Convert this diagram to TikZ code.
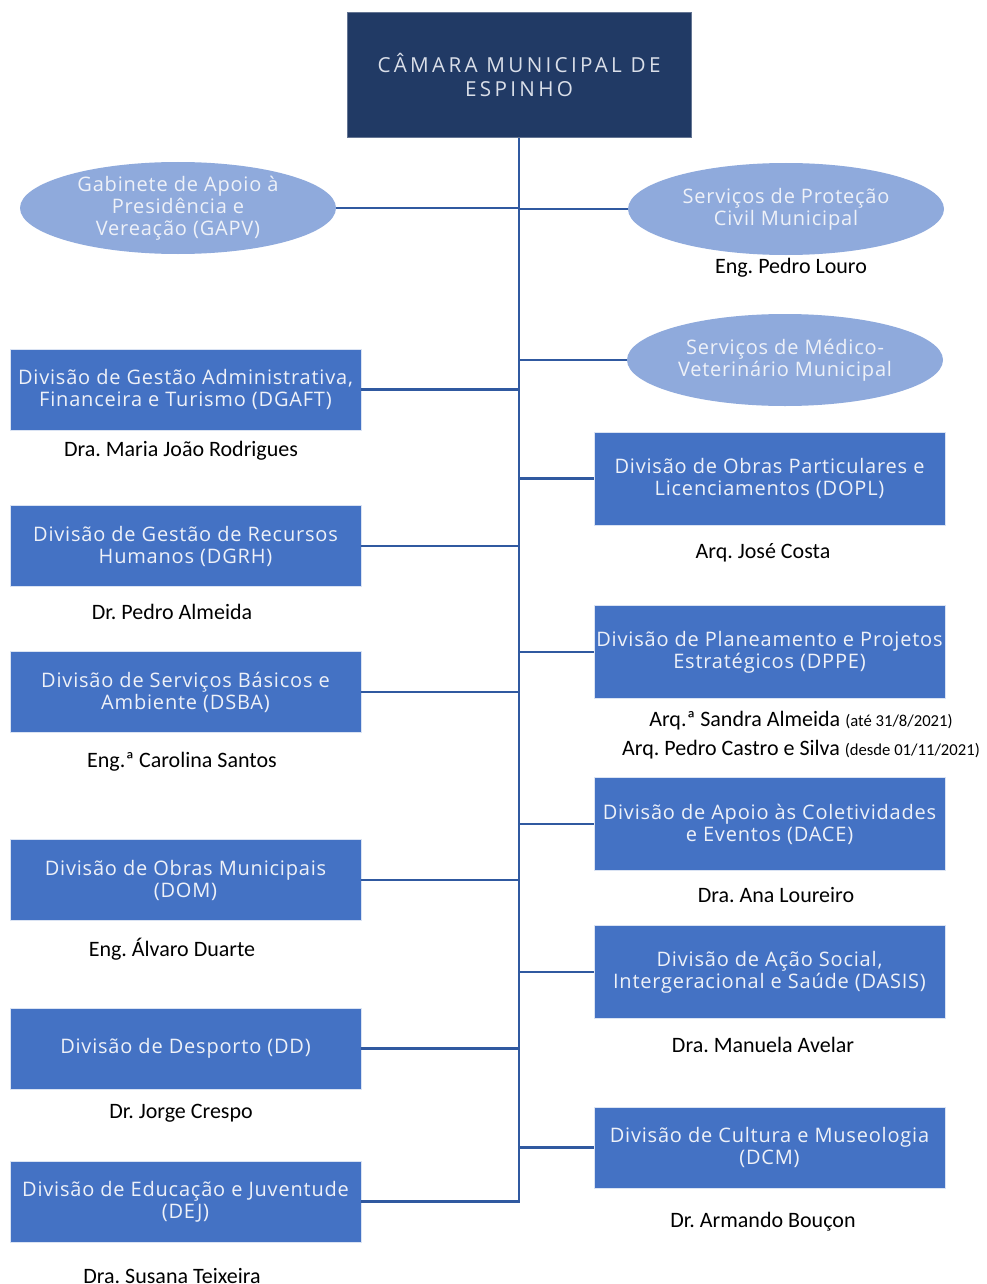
\documentclass[tikz,border=0pt]{standalone}
\usepackage{fontspec}
\setmainfont{Carlito}
\newfontfamily\boxfont[LetterSpace=4]{Open Sans}
\newfontfamily\topfont[LetterSpace=16]{Open Sans}
\usetikzlibrary{shapes.geometric}
\frenchspacing
\newcommand\datetxt[1]{{\fontsize{12.5}{14}\selectfont #1}}

\definecolor{navy}{HTML}{213A65}
\definecolor{divblue}{HTML}{4472C4}
\definecolor{lightblue}{HTML}{8FAADC}
\definecolor{linkblue}{HTML}{3059A0}
\definecolor{boxtext}{HTML}{EEF1F8}

\begin{document}
\begin{tikzpicture}[
  x=0.75pt, y=-0.75pt,
  txt/.style  ={font=\boxfont\fontsize{15}{16.5}\selectfont,text=boxtext,align=center},
  top/.style  ={rectangle,fill=navy,draw=navy!70!white,text=boxtext!90!navy,align=center,
                font=\topfont\fontsize{15.5}{18}\selectfont,minimum width=258pt,minimum height=93.75pt},
  unit/.style ={txt,ellipse,fill=lightblue,inner sep=0pt,minimum width=237pt,minimum height=69pt},
  divl/.style ={txt,rectangle,fill=divblue,draw=white!80!divblue,inner sep=0pt,minimum width=263.25pt,minimum height=60.75pt},
  divr/.style ={divl,minimum height=69.75pt},
  head/.style ={font=\fontsize{16.5}{18}\selectfont,text=black,inner sep=0pt,anchor=center},
  link/.style ={draw=linkblue,line width=1.6pt},
]
\useasboundingbox (0,0) rectangle (986,1284);

% ----------------------------------------------------------- top
\node[top] (cme) at (519, 75) {CÂMARA MUNICIPAL DE\\ESPINHO};

% ----------------------------------------------------------- support units
\node[unit] (gapv) at (178, 208) {Gabinete de Apoio à\\Presidência e\\Vereação (GAPV)};
\node[unit] (spc)  at (786, 209) {Serviços de Proteção\\Civil Municipal};
\node[head] (spcH) at (791, 268) {Eng. Pedro Louro};
\node[unit] (smv)  at (785, 360) {Serviços de Médico-\\Veterinário Municipal};

% ----------------------------------------------------------- divisions, left
\node[divl] (dgaft) at (185.5, 389.5) {Divisão de Gestão Administrativa,\\Financeira e Turismo (DGAFT)};
\node[head] (dgaftH) at (181, 451) {Dra. Maria João Rodrigues};
\node[divl] (dgrh) at (185.5, 546) {Divisão de Gestão de Recursos\\Humanos (DGRH)};
\node[head] (dgrhH) at (172, 612) {Dr. Pedro Almeida};
\node[divl] (dsba) at (185.5, 692) {Divisão de Serviços Básicos e\\Ambiente (DSBA)};
\node[head] (dsbaH) at (182, 762) {Eng.ª Carolina Santos};
\node[divl] (dom) at (185.5, 880) {Divisão de Obras Municipais\\(DOM)};
\node[head] (domH) at (172, 949) {Eng. Álvaro Duarte};
\node[divl] (dd) at (185.5, 1048.5) {Divisão de Desporto (DD)};
\node[head] (ddH) at (181, 1113) {Dr. Jorge Crespo};
\node[divl] (dej) at (185.5, 1201.5) {Divisão de Educação e Juventude\\(DEJ)};
\node[head] (dejH) at (172, 1276) {Dra. Susana Teixeira};

% ----------------------------------------------------------- divisions, right
\node[divr] (dopl) at (769.5, 478.5) {Divisão de Obras Particulares e\\Licenciamentos (DOPL)};
\node[head] (doplH) at (763, 553) {Arq. José Costa};
\node[divr] (dppe) at (769.5, 652) {Divisão de Planeamento e Projetos\\Estratégicos (DPPE)};
\node[head] (dppeH) at (801, 721) {Arq.ª Sandra Almeida \datetxt{(até 31/8/2021)}};
\node[head] (dppeH2) at (801, 750) {Arq. Pedro Castro e Silva \datetxt{(desde 01/11/2021)}};
\node[divr] (dace) at (769.5, 824) {Divisão de Apoio às Coletividades\\e Eventos (DACE)};
\node[head] (daceH) at (776, 895) {Dra. Ana Loureiro};
\node[divr] (dasis) at (769.5, 972) {Divisão de Ação Social,\\Intergeracional e Saúde (DASIS)};
\node[head] (dasisH) at (763, 1045) {Dra. Manuela Avelar};
\node[divl] (dcm) at (769.5, 1147.5) {Divisão de Cultura e Museologia\\(DCM)};
\node[head] (dcmH) at (763, 1222) {Dr. Armando Bouçon};

% ----------------------------------------------------------- connectors
\draw[link] (cme.south) -- (cme.south |- dej.east) -- (dej.east);
\foreach \n in {gapv, dgaft, dgrh, dsba, dom, dd} {
  \draw[link] (\n.east) -- (\n.east -| cme.south);
}
\foreach \n in {spc, smv, dopl, dppe, dace, dasis, dcm} {
  \draw[link] (\n.west) -- (\n.west -| cme.south);
}

\end{tikzpicture}
\end{document}
